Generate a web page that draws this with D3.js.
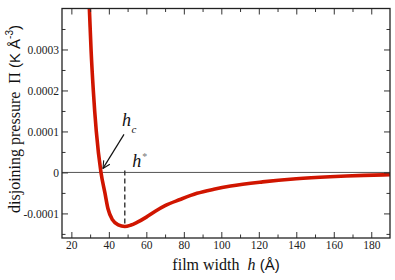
<!DOCTYPE html>
<html>
<head>
<meta charset="utf-8">
<script src="https://cdn.jsdelivr.net/npm/d3@7"></script>
<style>
body { margin: 0; background: #fff; }
text { font-family: "Liberation Serif", "DejaVu Serif", serif; }
</style>
</head>
<body>
<svg id="chart" width="395" height="280"></svg>
<script>
// film width h (Å) and disjoining pressure Π (K Å^-3)
const filmWidth = [28.8, 29.6, 30.5, 31.7, 33.3, 35.8, 37.9, 39.5, 42, 45, 48.5, 51.5, 55, 60, 65, 70, 78, 87, 96, 105, 122, 140, 158, 176, 190];
const pressure = [0.00048, 0.0004, 0.0003, 0.0002, 0.0001, 0, -0.00005, -0.000088, -0.000116, -0.000128, -0.000132, -0.000129, -0.000122, -0.000109, -0.000094, -0.000081, -0.000066, -0.000051, -0.000041, -0.000033, -0.000023, -0.0000155, -0.0000106, -0.0000073, -0.0000057];

const xTicks = [20, 40, 60, 80, 100, 120, 140, 160, 180];
const xMinorTicks = [30, 50, 70, 90, 110, 130, 150, 170];
const yTicks = [-0.0001, 0, 0.0001, 0.0002, 0.0003];
const yTickLabels = ['-0.0001', '0', '0.0001', '0.0002', '0.0003'];
const yMinorTicks = [-0.00015, -0.00005, 0.00005, 0.00015, 0.00025, 0.00035];
const hCross = 35.8;

const svg = d3.select('#chart');
const pL = 62, pR = 390, pT = 8.5, pB = 238;

const x = d3.scaleLinear().domain([15, 190]).range([pL, pR]);
const y = d3.scaleLinear().domain([-0.00016, 0.0004]).range([pB, pT]);

svg.append('clipPath').attr('id', 'plot-clip')
	.append('rect')
	.attr('x', pL).attr('y', pT)
	.attr('width', pR - pL).attr('height', pB - pT);

// zero line
svg.append('line')
	.attr('x1', pL).attr('x2', pR)
	.attr('y1', y(0)).attr('y2', y(0))
	.style('stroke', '#555')
	.style('stroke-width', 1);

// dashed line down to the minimum h*
const iMin = d3.minIndex(pressure);
svg.append('line')
	.attr('x1', x(filmWidth[iMin])).attr('x2', x(filmWidth[iMin]))
	.attr('y1', y(0) - 2).attr('y2', y(pressure[iMin]))
	.style('stroke', '#333')
	.style('stroke-width', 1.4)
	.style('stroke-dasharray', '5,3');

// curve
const line = d3.line()
	.x((d, i) => x(filmWidth[i]))
	.y(d => y(d))
	.curve(d3.curveMonotoneX);

svg.append('path')
	.datum(pressure)
	.attr('clip-path', 'url(#plot-clip)')
	.attr('d', line)
	.style('fill', 'none')
	.style('stroke', '#d01500')
	.style('stroke-width', 3.6)
	.style('stroke-linejoin', 'round');

// axes, ticks point inward
const styleAxis = g => {
	g.select('.domain').remove();
	g.selectAll('line').style('stroke', '#333').style('stroke-width', 1);
	g.selectAll('text')
		.style('font-family', '"Liberation Serif", serif')
		.style('font-size', '11.5px')
		.style('fill', '#222');
};

svg.append('g').attr('transform', `translate(0,${pB})`)
	.call(d3.axisBottom(x).tickValues(xTicks).tickSizeInner(-6).tickSizeOuter(0).tickPadding(3))
	.call(styleAxis);
svg.append('g').attr('transform', `translate(0,${pB})`)
	.call(d3.axisBottom(x).tickValues(xMinorTicks).tickSizeInner(-3.5).tickSizeOuter(0).tickFormat(''))
	.call(styleAxis);
svg.append('g').attr('transform', `translate(0,${pT})`)
	.call(d3.axisTop(x).tickValues(xTicks).tickSizeInner(-6).tickSizeOuter(0).tickFormat(''))
	.call(styleAxis);
svg.append('g').attr('transform', `translate(0,${pT})`)
	.call(d3.axisTop(x).tickValues(xMinorTicks).tickSizeInner(-3.5).tickSizeOuter(0).tickFormat(''))
	.call(styleAxis);

svg.append('g').attr('transform', `translate(${pL},0)`)
	.call(d3.axisLeft(y).tickValues(yTicks).tickSizeInner(-6).tickSizeOuter(0).tickPadding(3)
		.tickFormat((d, i) => yTickLabels[i]))
	.call(styleAxis);
svg.append('g').attr('transform', `translate(${pL},0)`)
	.call(d3.axisLeft(y).tickValues(yMinorTicks).tickSizeInner(-3.5).tickSizeOuter(0).tickFormat(''))
	.call(styleAxis);
svg.append('g').attr('transform', `translate(${pR},0)`)
	.call(d3.axisRight(y).tickValues(yTicks).tickSizeInner(-6).tickSizeOuter(0).tickFormat(''))
	.call(styleAxis);
svg.append('g').attr('transform', `translate(${pR},0)`)
	.call(d3.axisRight(y).tickValues(yMinorTicks).tickSizeInner(-3.5).tickSizeOuter(0).tickFormat(''))
	.call(styleAxis);

// frame
svg.append('rect')
	.attr('x', pL).attr('y', pT)
	.attr('width', pR - pL).attr('height', pB - pT)
	.style('fill', 'none')
	.style('stroke', '#222')
	.style('stroke-width', 1.3);

// annotations
svg.append('defs').append('marker')
	.attr('id', 'arrow')
	.attr('viewBox', '0 0 10 10')
	.attr('refX', 9).attr('refY', 5)
	.attr('markerWidth', 9).attr('markerHeight', 9)
	.attr('markerUnits', 'userSpaceOnUse')
	.attr('orient', 'auto')
	.append('path')
	.attr('d', 'M1,1 L9,5 L1,9')
	.style('fill', 'none')
	.style('stroke', '#111')
	.style('stroke-width', 1.2);

svg.append('line')
	.attr('x1', x(hCross) + 23).attr('y1', y(0) - 38)
	.attr('x2', x(hCross) + 2).attr('y2', y(0) - 4)
	.attr('marker-end', 'url(#arrow)')
	.style('stroke', '#111')
	.style('stroke-width', 1.2);

const hc = svg.append('text')
	.attr('x', x(hCross) + 21).attr('y', y(0) - 46)
	.style('font-size', '18px')
	.style('font-style', 'italic')
	.style('fill', '#111');
hc.append('tspan').text('h');
hc.append('tspan').attr('dx', 0.5).attr('dy', 7).style('font-size', '11px').text('c');

const hs = svg.append('text')
	.attr('x', x(filmWidth[iMin]) + 7.5).attr('y', y(0) - 5)
	.style('font-size', '18px')
	.style('font-style', 'italic')
	.style('fill', '#111');
hs.append('tspan').text('h');
hs.append('tspan').attr('dx', 1).attr('dy', -7).style('font-size', '10px').style('fill', '#777').style('font-style', 'normal').text('*');

// axis titles
const xt = svg.append('text')
	.attr('x', (pL + pR) / 2).attr('y', 270)
	.attr('text-anchor', 'middle')
	.style('font-size', '16px')
	.style('white-space', 'pre')
	.style('fill', '#111');
xt.append('tspan').text('film width  ');
xt.append('tspan').style('font-style', 'italic').text('h');
xt.append('tspan').style('font-family', '"Liberation Sans", sans-serif').style('font-size', '15px').text(' (Å)');

const yt = svg.append('text')
	.attr('transform', 'translate(20,119) rotate(-90)')
	.attr('text-anchor', 'middle')
	.style('font-size', '16px')
	.style('white-space', 'pre')
	.style('fill', '#111');
yt.append('tspan').text('disjoining pressure  Π ');
yt.append('tspan').style('font-family', '"Liberation Sans", sans-serif').style('font-size', '15px').text('(K Å');
yt.append('tspan').attr('dy', -7).style('font-family', '"Liberation Sans", sans-serif').style('font-size', '10px').text('-3');
yt.append('tspan').attr('dy', 7).style('font-family', '"Liberation Sans", sans-serif').style('font-size', '15px').text(')');
</script>
</body>
</html>
